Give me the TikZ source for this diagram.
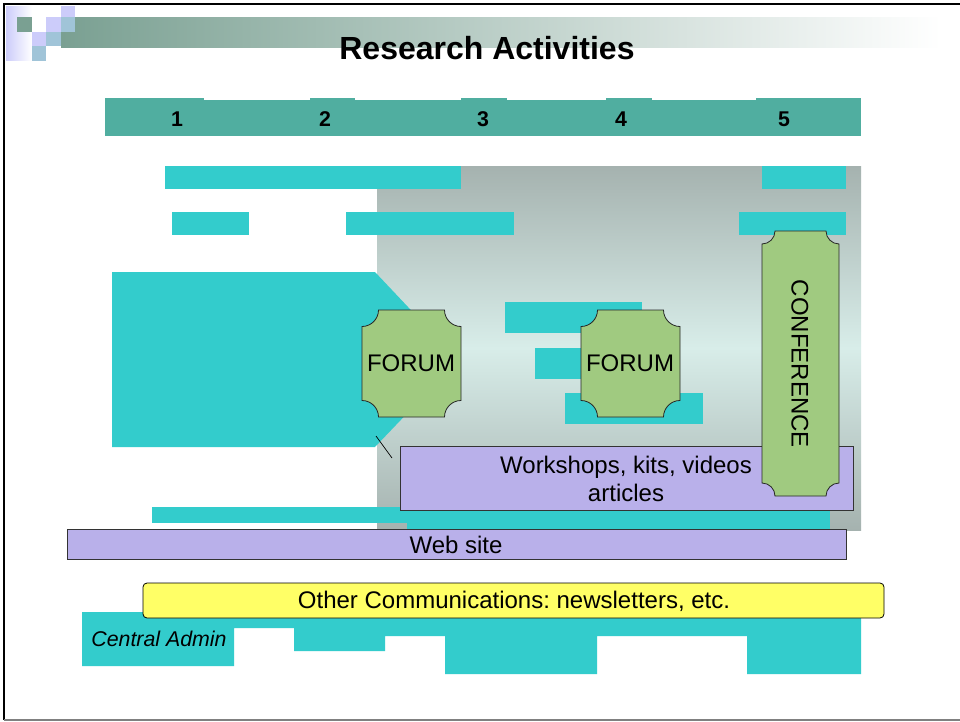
\documentclass[tikz,border=0pt]{standalone}
\usepackage{fontspec}
\setmainfont{Liberation Sans}
\usepackage{tikz}
\frenchspacing
\definecolor{slidecyan}{HTML}{33CCCC}
\definecolor{headteal}{HTML}{50AEA0}
\definecolor{titleteal}{HTML}{7AA092}
\definecolor{pixlav}{HTML}{CCCCFA}
\definecolor{pixblue}{HTML}{A0C4D8}
\definecolor{boxpurple}{HTML}{B9B0EA}
\definecolor{forumgreen}{HTML}{A0CA80}
\definecolor{noteyellow}{HTML}{FFFF66}
\definecolor{panelgray}{HTML}{A5B2AF}
\definecolor{panellight}{HTML}{D8EDE9}
\tikzset{
  cyanbar/.style={fill=slidecyan, draw=none},
  purplebox/.style={fill=boxpurple, draw=black!80, line width=0.6pt},
  forumbox/.style={fill=forumgreen, draw=black!85, line width=0.6pt},
  label18/.style={inner sep=0pt, anchor=base, font=\fontsize{18}{21.6}\selectfont},
  label16/.style={inner sep=0pt, anchor=base, font=\fontsize{16}{19.2}\selectfont},
  colnum/.style={inner sep=0pt, anchor=base, font=\fontsize{16}{19.2}\selectfont\bfseries}
}
\newcommand\plaquepath[5]{({#1+#5},#2) -- ({#3-#5},#2)
  .. controls ({#3-#5},{#2+0.55*#5}) and ({#3-0.55*#5},{#2+#5}) .. (#3,{#2+#5}) -- (#3,{#4-#5})
  .. controls ({#3-0.55*#5},{#4-#5}) and ({#3-#5},{#4-0.55*#5}) .. ({#3-#5},#4) -- ({#1+#5},#4)
  .. controls ({#1+#5},{#4-0.55*#5}) and ({#1+0.55*#5},{#4-#5}) .. (#1,{#4-#5}) -- (#1,{#2+#5})
  .. controls ({#1+0.55*#5},{#2+#5}) and ({#1+#5},{#2+0.55*#5}) .. cycle}
\begin{document}
\begin{tikzpicture}[x=0.75pt, y=-0.75pt]
\useasboundingbox (0,0) rectangle (960,721);
\fill[white] (0,0) rectangle (960,721);
\draw[line width=1.5pt] (3,4)--(960,4);
\draw[line width=1.5pt] (4,3)--(4,720);
\draw[gray, line width=1.2pt] (4,720)--(960,720);
\shade[left color=pixlav, right color=white] (6,6) rectangle (32,60);
\shade[left color=titleteal, right color=white] (61,17) rectangle (941,47);
\fill[titleteal] (17,17) rectangle (32,32);
\fill[pixlav] (46,17) rectangle (61,32);
\fill[pixlav] (61,6) rectangle (75,17);
\fill[pixblue] (61,17) rectangle (75,32);
\fill[pixlav] (32,32) rectangle (46,46);
\fill[pixblue] (46,32) rectangle (61,46);
\fill[pixblue] (32,46) rectangle (46,61);
\node[inner sep=0pt, anchor=base, font=\fontsize{24}{28}\selectfont\bfseries] (title) at (487,59.5) {Research Activities};
\fill[headteal] (105,98) rectangle (861,136);
\foreach \a/\b in {204/310, 355/461, 507/606, 652/756}
  \fill[white] (\a,97.5) rectangle (\b,99.6);
\node[colnum] (c1) at (177,126.5) {1};
\node[colnum] (c2) at (325,126.5) {2};
\node[colnum] (c3) at (483,126.5) {3};
\node[colnum] (c4) at (621,126.5) {4};
\node[colnum] (c5) at (784,126.5) {5};
\shade[top color=panelgray, bottom color=panelgray, middle color=panellight] (377,166) rectangle (861,530);
\fill[cyanbar] (165,166) rectangle (461,189);
\fill[cyanbar] (762,166) rectangle (846,189);
\fill[cyanbar] (172,212) rectangle (249,235);
\fill[cyanbar] (346,212) rectangle (514,235);
\fill[cyanbar] (739,212) rectangle (846,235);
\fill[cyanbar] (112,272)--(375,272)--(458,360)--(375,447)--(112,447)--cycle;
\fill[cyanbar] (505,302) rectangle (642,333);
\fill[cyanbar] (535,348) rectangle (600,379);
\fill[cyanbar] (565,393) rectangle (703,424);
\fill[cyanbar] (152,507) rectangle (830,523);
\fill[cyanbar] (407,500) rectangle (830,529);
\draw[purplebox] (400,446) rectangle (853,510);
\node[label18] (ws1) at (626,473.3) {Workshops, kits, videos};
\node[label18] (ws2) at (626,501.7) {articles};
\coordinate (tipA) at (376,436);
\coordinate (tipB) at (392,458);
\draw[line width=0.5pt] (tipA)--(tipB);
\draw[forumbox] \plaquepath{362}{310}{461}{417}{16.5};
\node[label18] (forumA) at (411,371.7) {FORUM};
\draw[forumbox] \plaquepath{581}{310}{680}{417}{16.5};
\node[label18] (forumB) at (630,371.7) {FORUM};
\draw[forumbox] \plaquepath{762}{231}{839}{496}{13};
\node[inner sep=0pt, rotate=-90, font=\fontsize{18}{21.6}\selectfont] (conf) at (800,364) {CONFERENCE};
\draw[purplebox] (67,529) rectangle (846,559);
\node[label18] (web) at (456,553.3) {Web site};
\fill[cyanbar] (82,612)--(861,612)--(861,674)--(747,674)--(747,636)--(597,636)--(597,674)
  --(445,674)--(445,636)--(385,636)--(385,651)--(294,651)--(294,628)--(234,628)--(234,666)--(82,666)--cycle;
\draw[fill=noteyellow, draw=black, line width=0.6pt, rounded corners=3pt] (143,583) rectangle (884,618);
\node[label18] (other) at (514,608.3) {Other Communications: newsletters, etc.};
\node[label16, font=\fontsize{16}{19.2}\selectfont\itshape] (admin) at (159,646.7) {Central Admin};
\end{tikzpicture}
\end{document}
